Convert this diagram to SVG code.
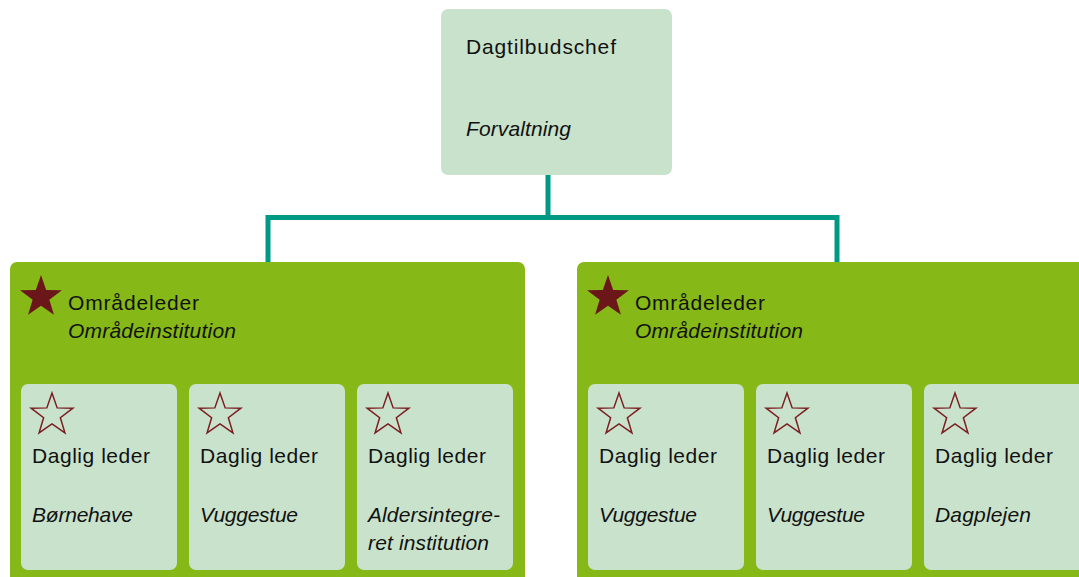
<svg xmlns="http://www.w3.org/2000/svg" width="1079" height="577" viewBox="0 0 1079 577">
<style>
.light{fill:#c9e2cc}
.green{fill:#86b817}
.t{font-family:"Liberation Sans",Arial,sans-serif;font-size:21px;fill:#111}
.i{font-style:italic}
.sf{fill:#6b1719}
.so{fill:none;stroke:#7a1e20;stroke-width:1.5;stroke-linejoin:miter}
.conn{fill:none;stroke:#009a84;stroke-width:5}
</style>
<defs>
<polygon id="star" points="0,-22 5.17,-7.12 20.92,-6.8 8.37,2.72 12.93,17.8 0,8.8 -12.93,17.8 -8.37,2.72 -20.92,-6.8 -5.17,-7.12"/>
</defs>
<rect width="1079" height="577" fill="#fff"/>
<g id="connectors">
<path class="conn" d="M548,175 V217.5 M268,217.5 H837 M268,215 V262 M837,215 V262"/>
</g>
<g id="top">
<rect class="light" x="441" y="9" width="231" height="166" rx="7"/>
<text class="t" x="466" y="54" textLength="150" lengthAdjust="spacing">Dagtilbudschef</text>
<text class="t i" x="466" y="136" textLength="105" lengthAdjust="spacing">Forvaltning</text>
</g>
<g id="area-left">
<rect class="green" x="10" y="262" width="515" height="330" rx="7"/>
<use href="#star" class="sf" x="41" y="297"/>
<text class="t" x="68" y="310" textLength="131" lengthAdjust="spacing">Områdeleder</text>
<text class="t i" x="68" y="338" textLength="168" lengthAdjust="spacing">Områdeinstitution</text>
</g>
<g id="area-right">
<rect class="green" x="577" y="262" width="520" height="330" rx="7"/>
<use href="#star" class="sf" x="608" y="297"/>
<text class="t" x="635" y="310" textLength="130" lengthAdjust="spacing">Områdeleder</text>
<text class="t i" x="635" y="338" textLength="168" lengthAdjust="spacing">Områdeinstitution</text>
</g>
<g id="unit-1">
<rect class="light" x="21" y="384" width="156" height="186" rx="7"/>
<use href="#star" class="so" x="52" y="415"/>
<text class="t" x="32" y="463" textLength="118" lengthAdjust="spacing">Daglig leder</text>
<text class="t i" x="32" y="522" textLength="101" lengthAdjust="spacing">Børnehave</text>
</g>
<g id="unit-2">
<rect class="light" x="189" y="384" width="156" height="186" rx="7"/>
<use href="#star" class="so" x="220" y="415"/>
<text class="t" x="200" y="463" textLength="118" lengthAdjust="spacing">Daglig leder</text>
<text class="t i" x="200" y="522" textLength="98" lengthAdjust="spacing">Vuggestue</text>
</g>
<g id="unit-3">
<rect class="light" x="357" y="384" width="156" height="186" rx="7"/>
<use href="#star" class="so" x="388" y="415"/>
<text class="t" x="368" y="463" textLength="118" lengthAdjust="spacing">Daglig leder</text>
<text class="t i" x="368" y="522" textLength="132" lengthAdjust="spacing">Aldersintegre-</text>
<text class="t i" x="368" y="550" textLength="121" lengthAdjust="spacing">ret institution</text>
</g>
<g id="unit-4">
<rect class="light" x="588" y="384" width="156" height="186" rx="7"/>
<use href="#star" class="so" x="619" y="415"/>
<text class="t" x="599" y="463" textLength="118" lengthAdjust="spacing">Daglig leder</text>
<text class="t i" x="599" y="522" textLength="98" lengthAdjust="spacing">Vuggestue</text>
</g>
<g id="unit-5">
<rect class="light" x="756" y="384" width="156" height="186" rx="7"/>
<use href="#star" class="so" x="787" y="415"/>
<text class="t" x="767" y="463" textLength="118" lengthAdjust="spacing">Daglig leder</text>
<text class="t i" x="767" y="522" textLength="98" lengthAdjust="spacing">Vuggestue</text>
</g>
<g id="unit-6">
<rect class="light" x="924" y="384" width="170" height="186" rx="7"/>
<use href="#star" class="so" x="955" y="415"/>
<text class="t" x="935" y="463" textLength="118" lengthAdjust="spacing">Daglig leder</text>
<text class="t i" x="935" y="522" textLength="96" lengthAdjust="spacing">Dagplejen</text>
</g>
</svg>
